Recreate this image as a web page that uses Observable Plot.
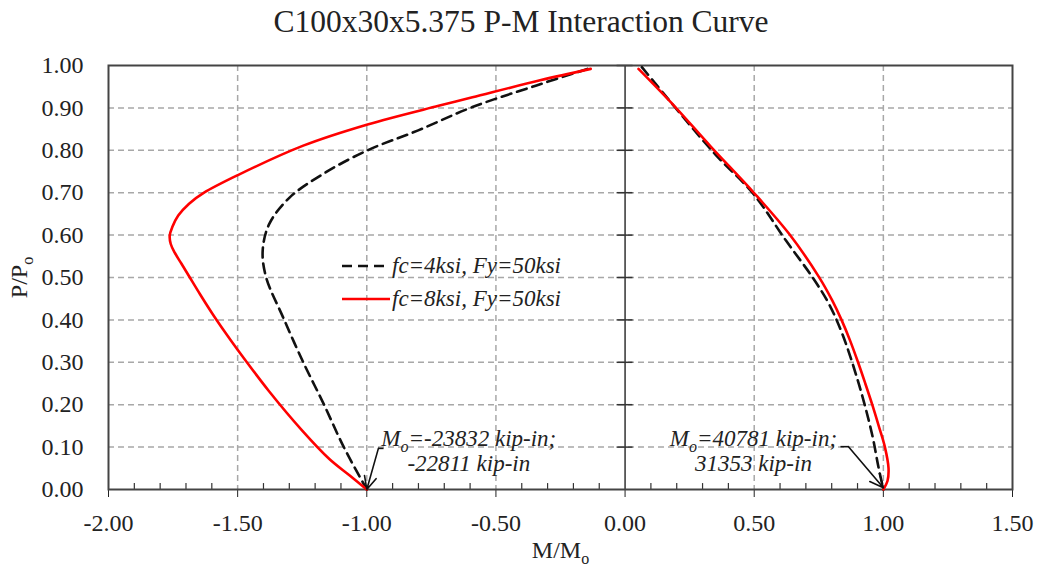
<!DOCTYPE html>
<html><head><meta charset="utf-8">
<script src="https://cdn.jsdelivr.net/npm/d3@7"></script>
<script src="https://cdn.jsdelivr.net/npm/@observablehq/plot@0.6"></script>
<style>
html,body{margin:0;padding:0;background:#fff;}
body{width:1042px;height:571px;overflow:hidden;position:relative;font-family:"Liberation Serif","Times New Roman",serif;color:#222;}
#title{height:44px;line-height:44px;text-align:center;font-size:31.5px;white-space:nowrap;}
#chart svg text, #chart svg tspan{font-family:"Liberation Serif","Times New Roman",serif !important;}
#legend{position:absolute;left:342px;top:249px;font-style:italic;font-size:23px;font-family:"Liberation Serif",serif;}
#legend .row{display:flex;align-items:center;height:33px;}
#legend svg{display:block;margin-right:2px;}
</style></head><body>
<div id="title">C100x30x5.375 P-M Interaction Curve</div>
<div id="chart"></div>
<div id="legend"></div>
<script>
// ---- data ----
const seriesNames = ["fc=4ksi, Fy=50ksi", "fc=8ksi, Fy=50ksi"];
const seriesColors = ["#111111", "#ff0000"];
const seriesDash = ["10,6", null];

// fc = 4 ksi, negative moment side
const m4L = [-0.146, -0.343, -0.591, -0.801, -0.997, -1.167, -1.298, -1.377, -1.403, -1.390, -1.324, -1.246, -1.167, -1.089, -1.0];
const p4L = [0.992, 0.953, 0.902, 0.847, 0.800, 0.745, 0.689, 0.627, 0.564, 0.501, 0.406, 0.300, 0.202, 0.100, 0.0];
// fc = 4 ksi, positive moment side
const m4R = [0.065, 0.205, 0.350, 0.497, 0.623, 0.725, 0.789, 0.841, 0.905, 0.956, 0.981, 1.0];
const p4R = [0.996, 0.893, 0.790, 0.697, 0.587, 0.501, 0.438, 0.367, 0.249, 0.131, 0.053, 0.0];
// fc = 8 ksi, negative moment side
const m8L = [-0.133, -0.329, -0.591, -0.722, -0.997, -1.246, -1.501, -1.630, -1.688, -1.730, -1.753, -1.763, -1.759, -1.743, -1.718, -1.688, -1.645, -1.597, -1.550, -1.503, -1.380, -1.250, -1.145, -1.066, -1.0];
const p8L = [0.992, 0.965, 0.925, 0.905, 0.861, 0.811, 0.741, 0.700, 0.674, 0.646, 0.619, 0.599, 0.579, 0.558, 0.533, 0.503, 0.460, 0.414, 0.372, 0.332, 0.233, 0.139, 0.072, 0.033, 0.0];
// fc = 8 ksi, positive moment side
const m8R = [0.052, 0.190, 0.330, 0.497, 0.635, 0.751, 0.802, 0.838, 0.872, 0.902, 0.930, 0.957, 0.982, 1.006, 1.020, 1.016, 1.0];
const p8R = [0.992, 0.905, 0.810, 0.701, 0.603, 0.501, 0.446, 0.400, 0.350, 0.300, 0.250, 0.200, 0.150, 0.100, 0.050, 0.020, 0.0];

// axes
const xTicks = [-2, -1.5, -1, -0.5, 0, 0.5, 1, 1.5];
const yTicks = [0, 0.1, 0.2, 0.3, 0.4, 0.5, 0.6, 0.7, 0.8, 0.9, 1.0];
const xGridVals = [-1.5, -1, -0.5, 0.5, 1];
const yGridVals = [0.1, 0.2, 0.3, 0.4, 0.5, 0.6, 0.7, 0.8, 0.9];
const xMinor = d3.range(-19, 15).map(i => i / 10).filter(v => Math.abs(v * 2 - Math.round(v * 2)) > 1e-9);

// annotations
const noteText = ["M_o=-23832 kip-in;\n-22811 kip-in", "M_o=40781 kip-in;\n31353 kip-in"];
const noteM = [-0.605, 0.497];
const noteP = [0.091, 0.092];
const stubM1 = [-0.935, 0.834], stubM2 = [-0.955, 0.865], stubP = [0.097, 0.101];
const tipM = [-1.0, 1.0], tipP = [0.0, 0.004];

// ---- build tables ----
function seg(series, side, m, p) { return m.map((v, i) => ({series, side, m: v, p: p[i]})); }
const rows4 = [...seg(0, "L", m4L, p4L), ...seg(0, "R", m4R, p4R)];
const rows8 = [...seg(1, "L", m8L, p8L), ...seg(1, "R", m8R, p8R)];
const notes = noteText.map((t, i) => ({t, m: noteM[i], p: noteP[i]}));
const stubs = stubM1.map((v, i) => ({m1: v, m2: stubM2[i], p: stubP[i], tm: tipM[i], tp: tipP[i]}));
const fmt = d => d.toFixed(2);

const chart = Plot.plot({
  width: 1042, height: 527,
  marginTop: 21, marginBottom: 82, marginLeft: 108, marginRight: 30,
  style: {fontFamily: "'Liberation Serif', 'Times New Roman', serif", fontSize: "23px", color: "#222", background: "transparent", overflow: "visible"},
  x: {domain: [-2, 1.5]},
  y: {domain: [0, 1]},
  marks: [
    Plot.gridY({ticks: yGridVals, stroke: "#a8a8a8", strokeOpacity: 1, strokeWidth: 1.5, strokeDasharray: "6,4"}),
    Plot.gridX({ticks: xGridVals, stroke: "#a8a8a8", strokeOpacity: 1, strokeWidth: 1.5, strokeDasharray: "6,4"}),
    Plot.ruleX([0], {stroke: "#333", strokeWidth: 1.5}),
    Plot.ruleY(yTicks.slice(1), {y: d => d, x1: -0.031, x2: 0.031, stroke: "#333", strokeWidth: 1.5}),
    Plot.ruleX(xMinor, {x: d => d, y1: 0, y2: 0.014, stroke: "#333", strokeWidth: 1.2}),
    Plot.axisX({ticks: xTicks, tickFormat: fmt, tickSize: 8, tickPadding: 16, fontSize: 24, label: "M/M_o", labelAnchor: "center", labelOffset: 68, labelArrow: "none"}),
    Plot.axisY({ticks: yTicks, tickFormat: fmt, tickSize: 0, tickPadding: 25, fontSize: 24, label: "P/P_o", labelAnchor: "center", labelOffset: 99, labelArrow: "none"}),
    Plot.frame({stroke: "#444", strokeWidth: 2}),
    Plot.line(rows4, {x: "m", y: "p", z: "side", stroke: seriesColors[0], strokeWidth: 2.6, strokeDasharray: seriesDash[0], curve: "catmull-rom"}),
    Plot.line(rows8, {x: "m", y: "p", z: "side", stroke: seriesColors[1], strokeWidth: 2.6, curve: "catmull-rom"}),
    Plot.link(stubs, {x1: "m1", x2: "m2", y1: "p", y2: "p", stroke: "#111", strokeWidth: 1.6}),
    Plot.arrow(stubs, {x1: "m2", y1: "p", x2: "tm", y2: "tp", stroke: "#111", strokeWidth: 1.6, headLength: 14, headAngle: 50}),
    Plot.text(notes, {x: "m", y: "p", text: "t", fontSize: 23, fontStyle: "italic", textAnchor: "middle", lineHeight: 1.07, fill: "#222"})
  ]
});
document.getElementById("chart").appendChild(chart);

// subscript "o" for M_o / P_o
const NS = "http://www.w3.org/2000/svg";
function subscriptify(el) {
  const t = el.textContent;
  const i = t.indexOf("_o");
  if (i < 0) return;
  while (el.firstChild) el.removeChild(el.firstChild);
  const a = document.createElementNS(NS, "tspan"); a.textContent = t.slice(0, i);
  const s = document.createElementNS(NS, "tspan"); s.textContent = "o"; s.setAttribute("font-size", "16px"); s.setAttribute("dy", "6");
  const b = document.createElementNS(NS, "tspan"); b.textContent = t.slice(i + 2); b.setAttribute("dy", "-6");
  el.appendChild(a); el.appendChild(s); if (b.textContent) el.appendChild(b);
}
chart.querySelectorAll("text").forEach(txt => {
  const tsp = txt.querySelectorAll(":scope > tspan");
  if (tsp.length) tsp.forEach(subscriptify); else subscriptify(txt);
});

// legend
const lg = d3.select("#legend");
seriesNames.forEach((name, i) => {
  const row = lg.append("div").attr("class", "row");
  const sv = row.append("svg").attr("width", 48).attr("height", 10);
  sv.append("line").attr("x1", 0).attr("x2", 48).attr("y1", 5).attr("y2", 5)
    .attr("stroke", seriesColors[i]).attr("stroke-width", 2.6)
    .attr("stroke-dasharray", seriesDash[i]);
  row.append("span").text(name);
});
</script>
</body></html>
